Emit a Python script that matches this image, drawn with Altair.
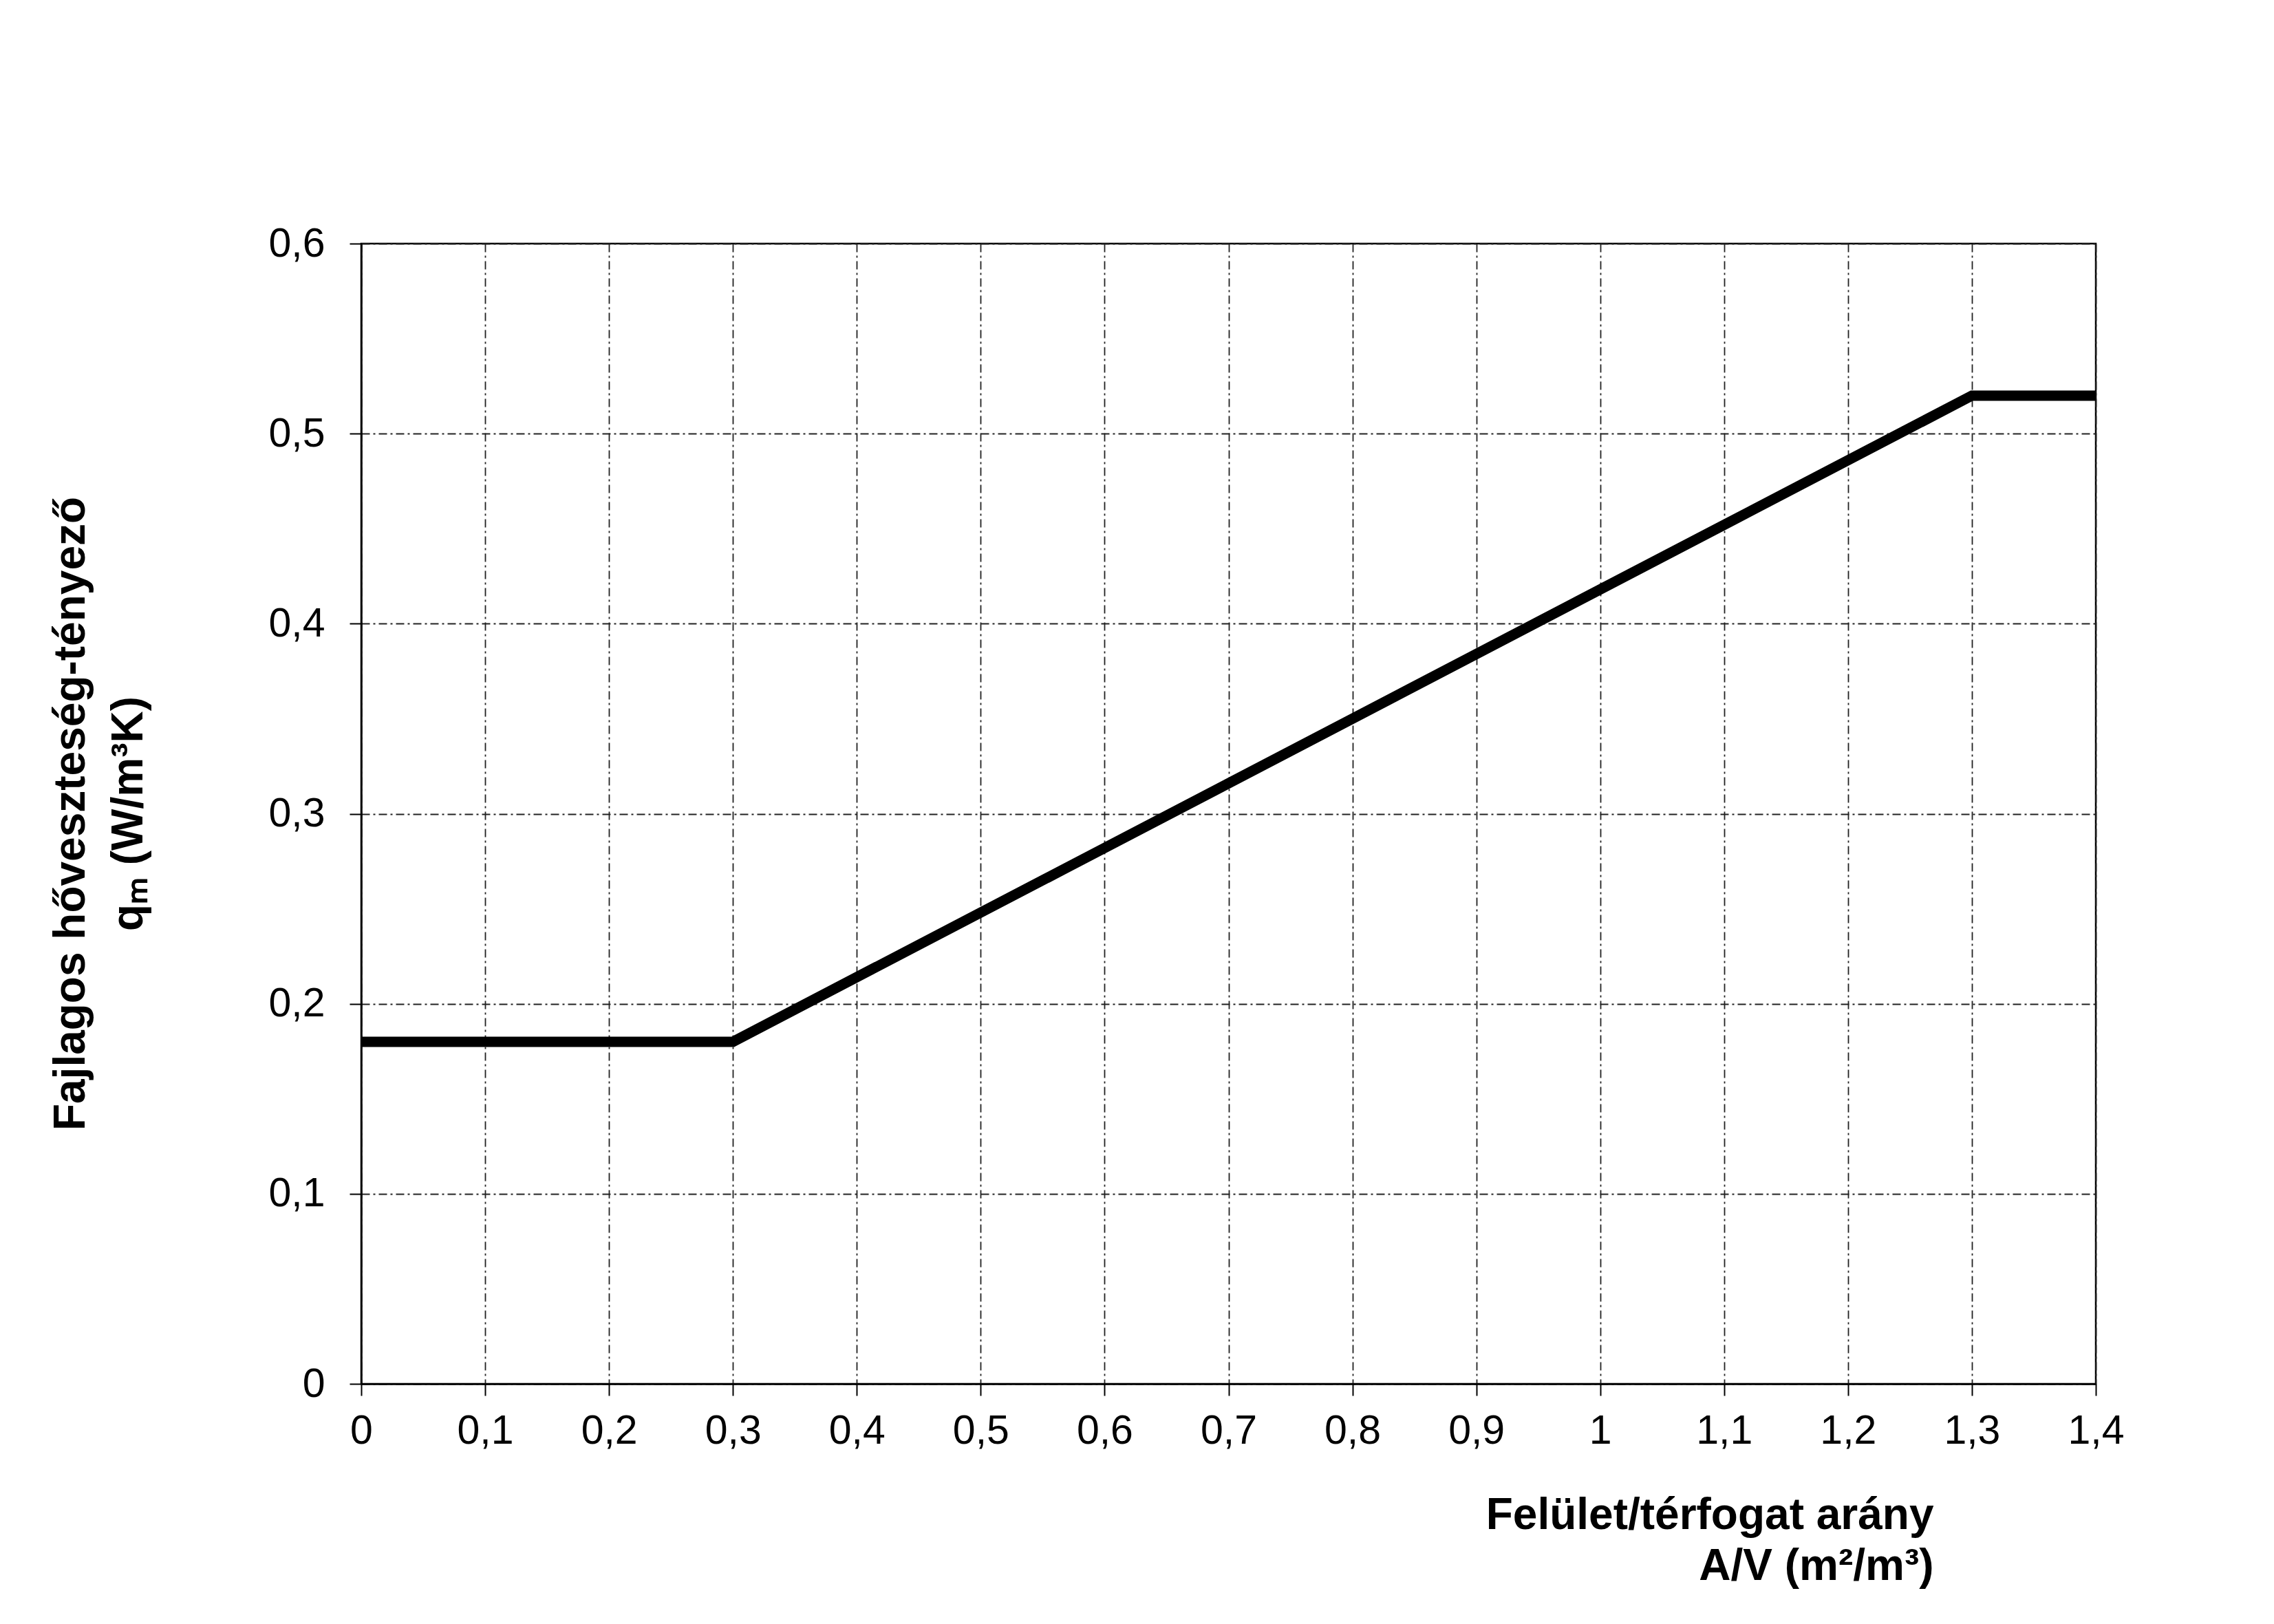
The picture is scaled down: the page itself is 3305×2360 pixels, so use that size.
import altair as alt
import pandas as pd

# Data
av_ratio = [0.0, 0.3, 1.3, 1.4]
qm_value = [0.18, 0.18, 0.52, 0.52]

x_ticks = [0.0, 0.1, 0.2, 0.3, 0.4, 0.5, 0.6, 0.7, 0.8, 0.9, 1.0, 1.1, 1.2, 1.3, 1.4]
y_ticks = [0.0, 0.1, 0.2, 0.3, 0.4, 0.5, 0.6]

x_title = ["Felület/térfogat arány", "A/V (m²/m³)"]
y_title = ["Fajlagos hőveszteség-tényező", "qₘ (W/m³K)"]

df = pd.DataFrame({"av": av_ratio, "qm": qm_value})

FONT = "Liberation Sans"
label_expr = "replace(format(datum.value, '.1~f'), '.', ',')"
grid_dash = [12, 5, 3, 5]

chart = (
    alt.Chart(df)
    .mark_line(color="black", strokeWidth=15, strokeCap="butt", strokeJoin="miter")
    .encode(
        x=alt.X(
            "av:Q",
            scale=alt.Scale(domain=[0, 1.4], nice=False, zero=False),
            axis=alt.Axis(
                values=x_ticks,
                labelExpr=label_expr,
                title=x_title,
                titleFont=FONT,
                titleFontSize=64,
                titleFontWeight="bold",
                titleColor="black",
                titleAlign="right",
                titleBaseline="alphabetic",
                titleX=2285,
                titleY=210,
                titleLineHeight=74,
                labelFont=FONT,
                labelFontSize=59,
                labelColor="black",
                labelPadding=22,
                labelFlush=False,
                labelOverlap=False,
                tickSize=17,
                tickColor="black",
                tickWidth=2,
                domainColor="black",
                domainWidth=2.5,
                grid=True,
                gridColor="#222222",
                gridWidth=1.8,
                gridDash=grid_dash,
            ),
        ),
        y=alt.Y(
            "qm:Q",
            scale=alt.Scale(domain=[0, 0.6], nice=False, zero=False),
            axis=alt.Axis(
                values=y_ticks,
                labelExpr=label_expr,
                title=y_title,
                titleFont=FONT,
                titleFontSize=64,
                titleFontWeight="bold",
                titleColor="black",
                titleAngle=270,
                titleAlign="center",
                titleBaseline="alphabetic",
                titleX=-403,
                titleY=828,
                titleLineHeight=84,
                labelFont=FONT,
                labelFontSize=59,
                labelColor="black",
                labelPadding=36,
                labelFlush=False,
                labelOverlap=False,
                tickSize=17,
                tickColor="black",
                tickWidth=2,
                domainColor="black",
                domainWidth=2.5,
                grid=True,
                gridColor="#222222",
                gridWidth=1.8,
                gridDash=grid_dash,
            ),
        ),
    )
    .properties(
        width=2521,
        height=1657,
        autosize=alt.AutoSizeParams(type="none"),
        padding={"left": 517, "top": 346, "right": 250, "bottom": 330},
        background="white",
    )
    .configure_view(stroke="black", strokeWidth=2.5)
)

chart.save("out.html", embed_options={"renderer": "svg", "actions": False})
